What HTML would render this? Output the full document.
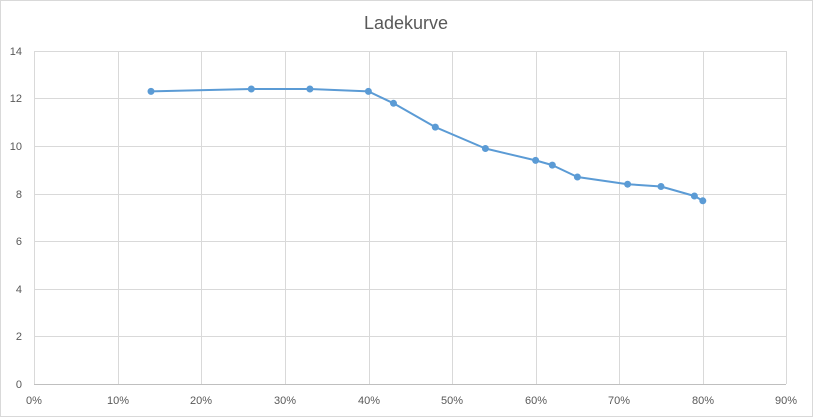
<!DOCTYPE html>
<html><head><meta charset="utf-8"><style>
html,body{margin:0;padding:0;background:#fff;}
svg{display:block;font-family:"Liberation Sans",sans-serif;}
</style></head><body>
<svg width="813" height="417" viewBox="0 0 813 417" xmlns="http://www.w3.org/2000/svg">
<rect x="0.5" y="0.5" width="812" height="416" fill="#fff" stroke="#d9d9d9"/>
<text x="406" y="29" text-anchor="middle" font-size="18" fill="#595959">Ladekurve</text>
<g stroke="#d9d9d9" stroke-width="1">
<line x1="34" y1="51.5" x2="786" y2="51.5"/>
<line x1="34" y1="98.5" x2="786" y2="98.5"/>
<line x1="34" y1="146.5" x2="786" y2="146.5"/>
<line x1="34" y1="194.5" x2="786" y2="194.5"/>
<line x1="34" y1="241.5" x2="786" y2="241.5"/>
<line x1="34" y1="289.5" x2="786" y2="289.5"/>
<line x1="34" y1="336.5" x2="786" y2="336.5"/>
<line x1="34.5" y1="51" x2="34.5" y2="384"/>
<line x1="118.5" y1="51" x2="118.5" y2="384"/>
<line x1="201.5" y1="51" x2="201.5" y2="384"/>
<line x1="285.5" y1="51" x2="285.5" y2="384"/>
<line x1="369.5" y1="51" x2="369.5" y2="384"/>
<line x1="452.5" y1="51" x2="452.5" y2="384"/>
<line x1="536.5" y1="51" x2="536.5" y2="384"/>
<line x1="619.5" y1="51" x2="619.5" y2="384"/>
<line x1="703.5" y1="51" x2="703.5" y2="384"/>
<line x1="786.5" y1="51" x2="786.5" y2="384"/>
</g>
<line x1="34" y1="384.5" x2="786" y2="384.5" stroke="#bfbfbf"/>
<g font-size="11" fill="#595959" text-anchor="end">
<text x="22" y="388">0</text><text x="22" y="340">2</text><text x="22" y="293">4</text>
<text x="22" y="245">6</text><text x="22" y="198">8</text><text x="22" y="150">10</text>
<text x="22" y="102">12</text><text x="22" y="55">14</text>
</g>
<g font-size="11" fill="#595959" text-anchor="middle">
<text x="34" y="404">0%</text><text x="118" y="404">10%</text><text x="201" y="404">20%</text>
<text x="285" y="404">30%</text><text x="369" y="404">40%</text><text x="452" y="404">50%</text>
<text x="536" y="404">60%</text><text x="619" y="404">70%</text><text x="703" y="404">80%</text>
<text x="786" y="404">90%</text>
</g>
<polyline fill="none" stroke="#5b9bd5" stroke-width="2" stroke-linejoin="round"
points="151,91.4 251.3,89 309.9,89 368.4,91.4 393.5,103.3 435.3,127.1 485.4,148.5 535.6,160.4 552.3,165.1 577.4,177 627.6,184.2 661,186.5 694.4,196 702.8,200.8"/>
<g fill="#5b9bd5">
<circle cx="151" cy="91.4" r="3.5"/><circle cx="251.3" cy="89" r="3.5"/><circle cx="309.9" cy="89" r="3.5"/>
<circle cx="368.4" cy="91.4" r="3.5"/><circle cx="393.5" cy="103.3" r="3.5"/><circle cx="435.3" cy="127.1" r="3.5"/>
<circle cx="485.4" cy="148.5" r="3.5"/><circle cx="535.6" cy="160.4" r="3.5"/><circle cx="552.3" cy="165.1" r="3.5"/>
<circle cx="577.4" cy="177" r="3.5"/><circle cx="627.6" cy="184.2" r="3.5"/><circle cx="661" cy="186.5" r="3.5"/>
<circle cx="694.4" cy="196" r="3.5"/><circle cx="702.8" cy="200.8" r="3.5"/>
</g>
</svg>
</body></html>
